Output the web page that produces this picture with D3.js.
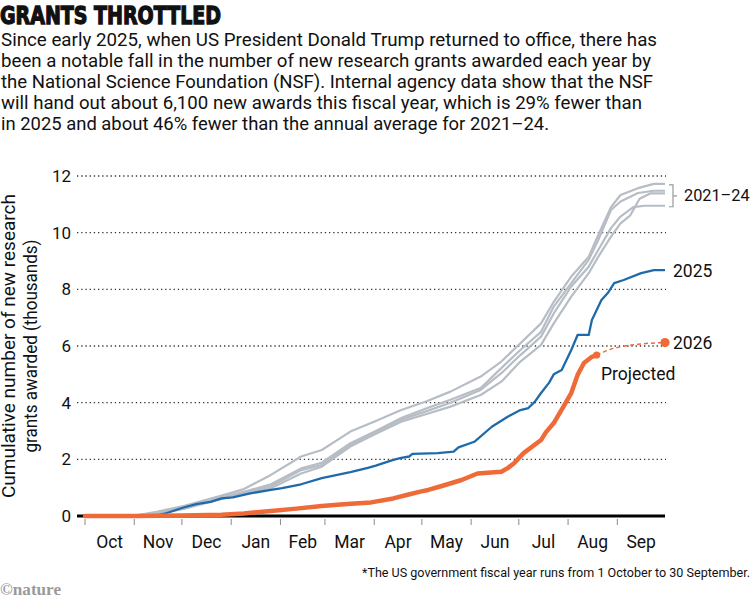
<!DOCTYPE html>
<html><head><meta charset="utf-8">
<script src="https://cdn.jsdelivr.net/npm/d3@7"></script>
<style>body{margin:0;background:#fff} svg{display:block}</style>
</head><body>
<svg id="c" width="752" height="604"></svg>
<script>
// ---- Data (day of fiscal year from 1 Oct, cumulative awards in thousands) ----
const monthLabels = ["Oct","Nov","Dec","Jan","Feb","Mar","Apr","May","Jun","Jul","Aug","Sep"];
const yTicks = [0, 2, 4, 6, 8, 10, 12];

const fy2021_24a = [[0,0],[30,0],[45,0.15],[62,0.35],[86,0.72],[100,0.95],[117,1.45],[136,2.1],[149,2.33],[167,2.98],[183,3.35],[199,3.74],[215,4.05],[230,4.39],[249,4.92],[262,5.45],[274,6.1],[287,6.8],[295,7.56],[306,8.45],[317,9.15],[323,9.92],[331,10.9],[337,11.33],[348,11.57],[358,11.72],[365,11.72]];
const fy2021_24b = [[0,0],[30,0],[45,0.12],[62,0.3],[86,0.66],[100,0.85],[117,1.12],[136,1.68],[149,1.88],[167,2.57],[183,3.0],[199,3.46],[215,3.8],[230,4.1],[249,4.52],[262,5.22],[274,5.86],[287,6.5],[295,7.39],[306,8.22],[317,9.04],[323,9.74],[331,10.8],[337,11.1],[348,11.4],[358,11.48],[365,11.48]];
const fy2021_24c = [[0,0],[32,0],[47,0.1],[62,0.28],[86,0.63],[100,0.8],[117,1.05],[136,1.62],[149,1.8],[167,2.5],[183,2.95],[199,3.4],[215,3.7],[230,4.0],[249,4.45],[262,5.04],[274,5.68],[287,6.33],[295,7.15],[306,8.1],[317,8.8],[323,9.39],[331,10.16],[337,10.57],[345,10.9],[352,10.95],[365,10.95]];
const fy2021_24d = [[0,0],[33,0],[48,0.1],[62,0.25],[86,0.6],[100,0.78],[117,0.98],[136,1.5],[149,1.74],[167,2.45],[183,2.9],[199,3.33],[215,3.6],[230,3.86],[249,4.27],[262,4.74],[274,5.45],[287,6.04],[295,6.8],[306,7.74],[317,8.57],[323,9.15],[331,9.86],[337,10.33],[343,10.6],[349,11.2],[356,11.39],[365,11.39]];
const fy2025 = [[0,0],[44,0],[50,0.08],[54,0.15],[62,0.3],[70,0.42],[79,0.5],[86,0.62],[93,0.66],[104,0.8],[117,0.92],[124,0.98],[136,1.12],[149,1.34],[167,1.55],[178,1.7],[183,1.78],[194,1.98],[199,2.05],[204,2.1],[206,2.19],[222,2.22],[232,2.27],[235,2.42],[245,2.62],[256,3.15],[266,3.5],[274,3.74],[279,3.81],[283,4.03],[287,4.34],[292,4.7],[295,5.0],[300,5.15],[306,5.86],[310,6.39],[317,6.39],[319,6.92],[325,7.62],[329,7.87],[333,8.22],[339,8.33],[350,8.57],[358,8.68],[365,8.68]];
const fy2026 = [[0,0],[31,0],[61,0.02],[86,0.04],[100,0.09],[117,0.18],[133,0.26],[149,0.35],[165,0.42],[180,0.48],[194,0.62],[203,0.75],[211,0.86],[216,0.92],[224,1.05],[237,1.27],[247,1.5],[262,1.56],[266,1.69],[270,1.86],[276,2.22],[287,2.68],[290,2.95],[295,3.28],[301,3.85],[306,4.34],[310,4.98],[314,5.4],[319,5.62],[322,5.68]];
const fy2026Projected = [[322,5.68],[326,5.78],[331,5.89],[340,6.0],[348,6.06],[356,6.1],[365,6.12]];

const titleText = "GRANTS THROTTLED";
const introLines = [
  "Since early 2025, when US President Donald Trump returned to office, there has",
  "been a notable fall in the number of new research grants awarded each year by",
  "the National Science Foundation (NSF). Internal agency data show that the NSF",
  "will hand out about 6,100 new awards this fiscal year, which is 29% fewer than",
  "in 2025 and about 46% fewer than the annual average for 2021\u201324."
];
const introWidths = [656, 650, 652, 641, 548];
const yTitleLines = ["Cumulative number of new research", "grants awarded (thousands)"];

// ---- Drawing ----
const svg = d3.select("#c");
const FONT = "Roboto, 'Liberation Sans', sans-serif";
const start = new Date(2024, 9, 1), end = new Date(2025, 9, 1);
const toDate = d => d3.timeDay.offset(start, d);
const x = d3.scaleTime().domain([start, end]).range([85, 665]);
const y = d3.scaleLinear().domain([0, 12]).range([516, 176]);

// Title (condensed by horizontal scaling to the reference width)
const titleG = svg.append("g");
const title = titleG.append("text").attr("x", 0).attr("y", 24)
  .attr("font-family", "'DejaVu Sans Condensed','DejaVu Sans',sans-serif")
  .attr("font-stretch", "condensed")
  .attr("font-weight", "bold").attr("font-size", 25.5)
  .attr("stroke", "#111").attr("stroke-width", 1.3)
  .attr("fill", "#111").text(titleText);
const tw = title.node().getComputedTextLength() + 1;
titleG.attr("transform", `scale(${222 / tw},1)`);

// Intro
svg.append("g").selectAll("text").data(introLines).join("text")
  .attr("x", 1).attr("y", (d, i) => 46 + i * 21)
  .attr("font-family", FONT).attr("font-size", 17.5).attr("fill", "#111")
  .attr("textLength", (d, i) => introWidths[i]).attr("lengthAdjust", "spacingAndGlyphs")
  .text(d => d);

// Gridlines
const grid = svg.append("g");
grid.selectAll("line").data(yTicks.filter(t => t > 0)).join("line")
  .attr("x1", 77).attr("x2", x(end) + 1)
  .attr("y1", d => y(d)).attr("y2", d => y(d))
  .attr("stroke", "#333").attr("stroke-width", 1.3).attr("stroke-dasharray", "1.3,2.9");

// Y tick labels
svg.append("g").selectAll("text").data(yTicks).join("text")
  .attr("x", 71).attr("y", d => y(d) + 6)
  .attr("text-anchor", "end").attr("font-family", FONT).attr("font-size", 17)
  .attr("fill", "#111").text(d => d);

// Month ticks
const monthStarts = d3.timeMonth.range(start, end);
svg.append("g").selectAll("line").data(monthStarts).join("line")
  .attr("x1", d => x(d)).attr("x2", d => x(d))
  .attr("y1", 519).attr("y2", 525)
  .attr("stroke", "#888").attr("stroke-width", 1);

svg.append("g").selectAll("text").data(monthStarts).join("text")
  .attr("x", d => (x(d) + x(d3.timeMonth.offset(d, 1))) / 2)
  .attr("y", 548).attr("text-anchor", "middle")
  .attr("font-family", FONT).attr("font-size", 17.5).attr("fill", "#111")
  .text((d, i) => monthLabels[i]);

// Zero line
svg.append("line").attr("x1", 77).attr("x2", x(end))
  .attr("y1", y(0)).attr("y2", y(0))
  .attr("stroke", "#000").attr("stroke-width", 3.2);

// Y axis title
const yt = svg.append("g").attr("transform", "translate(0,346) rotate(-90)");
yt.selectAll("text").data(yTitleLines).join("text")
  .attr("x", 0).attr("y", (d, i) => 15 + i * 22)
  .attr("text-anchor", "middle").attr("font-family", FONT).attr("font-size", 17.5)
  .attr("fill", "#111")
  .attr("textLength", (d, i) => [304, 213][i]).attr("lengthAdjust", "spacingAndGlyphs")
  .text(d => d);

// Lines
const line = d3.line().x(d => x(toDate(d[0]))).y(d => y(d[1]));
const grays = [fy2021_24d, fy2021_24c, fy2021_24b, fy2021_24a];
svg.append("g").selectAll("path").data(grays).join("path")
  .attr("d", line).attr("fill", "none")
  .attr("stroke", "#b7bdc5").attr("stroke-width", 2.2).attr("stroke-linejoin", "round");

svg.append("path").datum(fy2025).attr("d", line).attr("fill", "none")
  .attr("stroke", "#1f6aab").attr("stroke-width", 2.3).attr("stroke-linejoin", "round");

svg.append("path").datum(fy2026Projected).attr("d", line.curve(d3.curveMonotoneX)).attr("fill", "none")
  .attr("stroke", "#ee6a37").attr("stroke-width", 1.5).attr("stroke-dasharray", "4,3");
line.curve(d3.curveLinear);

svg.append("path").datum(fy2026).attr("d", line).attr("fill", "none")
  .attr("stroke", "#ee6a37").attr("stroke-width", 4.5)
  .attr("stroke-linejoin", "round").attr("stroke-linecap", "round");

const dots = [fy2026[fy2026.length - 1], fy2026Projected[fy2026Projected.length - 1]];
svg.append("g").selectAll("circle").data(dots).join("circle")
  .attr("cx", d => x(toDate(d[0]))).attr("cy", d => y(d[1]))
  .attr("r", (d, i) => i === 0 ? 3.6 : 4.6).attr("fill", "#ee6a37");

// Right labels
const lastA = fy2021_24a[fy2021_24a.length - 1][1];
const lastC = fy2021_24c[fy2021_24c.length - 1][1];
const bx = x(end) + 8;
const br = svg.append("g").attr("stroke", "#999").attr("stroke-width", 1.2).attr("fill", "none");
br.append("path").attr("d", `M${bx - 4},${y(lastA) + 1}H${bx}V${y(lastC) + 1}H${bx - 4}M${bx},${(y(lastA) + y(lastC)) / 2 + 1}H${bx + 4}`);

const labelStyle = s => s.attr("font-family", FONT).attr("font-size", 17.5).attr("fill", "#111");
svg.append("text").attr("x", 684).attr("y", 201).call(labelStyle)
  .attr("font-size", 16.3).text("2021\u201324");
svg.append("text").attr("x", 673).attr("y", y(fy2025[fy2025.length - 1][1]) + 6.5).call(labelStyle).text("2025");
svg.append("text").attr("x", 673).attr("y", y(fy2026Projected[fy2026Projected.length - 1][1]) + 6.5).call(labelStyle).text("2026");
svg.append("text").attr("x", 601).attr("y", 380).call(labelStyle).text("Projected");

// Footnote and credit
svg.append("text").attr("x", 750).attr("y", 577).attr("text-anchor", "end")
  .attr("font-family", FONT).attr("font-size", 12.5).attr("fill", "#111")
  .attr("textLength", 388).attr("lengthAdjust", "spacingAndGlyphs")
  .text("*The US government fiscal year runs from 1 October to 30 September.");
svg.append("text").attr("x", 0).attr("y", 595)
  .attr("font-family", "'Liberation Serif','DejaVu Serif',serif").attr("font-weight", "bold")
  .attr("font-size", 17).attr("fill", "#9a9a9a")
  .attr("textLength", 61).attr("lengthAdjust", "spacingAndGlyphs")
  .text("\u00a9nature");
</script>
</body></html>
